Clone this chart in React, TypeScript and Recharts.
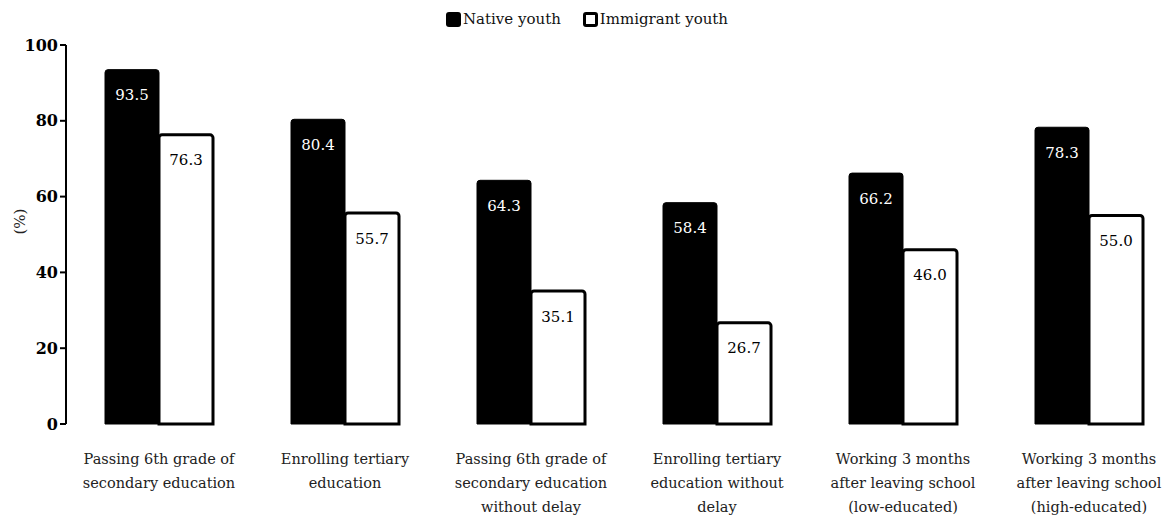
import React from 'react';
import { BarChart, Bar, XAxis, YAxis, LabelList } from 'recharts';

const CATEGORIES = [
  ['Passing 6th grade of', 'secondary education'],
  ['Enrolling tertiary', 'education'],
  ['Passing 6th grade of', 'secondary education', 'without delay'],
  ['Enrolling tertiary', 'education without', 'delay'],
  ['Working 3 months', 'after leaving school', '(low-educated)'],
  ['Working 3 months', 'after leaving school', '(high-educated)'],
];
const NATIVE = [93.5, 80.4, 64.3, 58.4, 66.2, 78.3];
const IMMIGRANT = [76.3, 55.7, 35.1, 26.7, 46.0, 55.0];
const Y_TICKS = [0, 20, 40, 60, 80, 100];

const FONT = '"DejaVu Serif", serif';

const data = CATEGORIES.map((lines, i) => ({
  name: lines.join('\n'),
  native: NATIVE[i],
  immigrant: IMMIGRANT[i],
}));

function CategoryTick(props: any) {
  const { x, y, payload } = props;
  const lines = String(payload.value).split('\n');
  return (
    <text x={x} y={y + 32} textAnchor="middle" fontFamily={FONT} fontSize={14.5} fill="#222">
      {lines.map((l, i) => (
        <tspan key={i} x={x} dy={i === 0 ? 0 : 24}>{l}</tspan>
      ))}
    </text>
  );
}

function LegendBox() {
  return (
    <div style={{ position: 'absolute', top: 10, left: 0, width: 1174, display: 'flex', justifyContent: 'center', fontFamily: FONT, fontSize: 15, color: '#111' }}>
      <span style={{ display: 'flex', alignItems: 'center', marginRight: 22 }}>
        <span style={{ width: 15, height: 15, background: '#000', borderRadius: 3, marginRight: 2 }} />
        Native youth
      </span>
      <span style={{ display: 'flex', alignItems: 'center' }}>
        <span style={{ width: 9, height: 9, background: '#fff', border: '3px solid #000', borderRadius: 3, marginRight: 2 }} />
        Immigrant youth
      </span>
    </div>
  );
}

const fmt = (v: any) => Number(v).toFixed(1);

export default function App() {
  return (
    <div style={{ position: 'absolute', left: 0, top: 0, width: 1174, height: 515, overflow: 'hidden', background: '#fff' }}>
      <BarChart
        width={1190}
        height={515}
        data={data}
        margin={{ top: 45, right: 8, left: 0, bottom: 0 }}
        barCategoryGap={39}
        barGap={0}
      >
        <XAxis
          dataKey="name"
          axisLine={false}
          tickLine={false}
          interval={0}
          height={91}
          tick={<CategoryTick />}
        />
        <YAxis
          width={66}
          domain={[0, 100]}
          ticks={Y_TICKS}
          axisLine={{ stroke: '#000', strokeWidth: 2 }}
          tickLine={{ stroke: '#000', strokeWidth: 2 }}
          tickSize={6}
          tick={{ fontFamily: FONT, fontSize: 16, fontWeight: 'bold', fill: '#000' }}
          label={{ value: '(%)', angle: -90, position: 'insideLeft', offset: 20, style: { fontFamily: FONT, fontSize: 15, fill: '#222' } }}
        />
        <Bar dataKey="native" fill="#000" stroke="#000" strokeWidth={1} radius={[3, 3, 0, 0]} isAnimationActive={false}>
          <LabelList dataKey="native" position="insideTop" offset={20} formatter={fmt} style={{ fontFamily: FONT, fontSize: 15, fill: '#fff' }} />
        </Bar>
        <Bar dataKey="immigrant" fill="#fff" stroke="#000" strokeWidth={3} radius={[3, 3, 0, 0]} isAnimationActive={false}>
          <LabelList dataKey="immigrant" position="insideTop" offset={20} formatter={fmt} style={{ fontFamily: FONT, fontSize: 15, fill: '#000' }} />
        </Bar>
      </BarChart>
      <LegendBox />
    </div>
  );
}
